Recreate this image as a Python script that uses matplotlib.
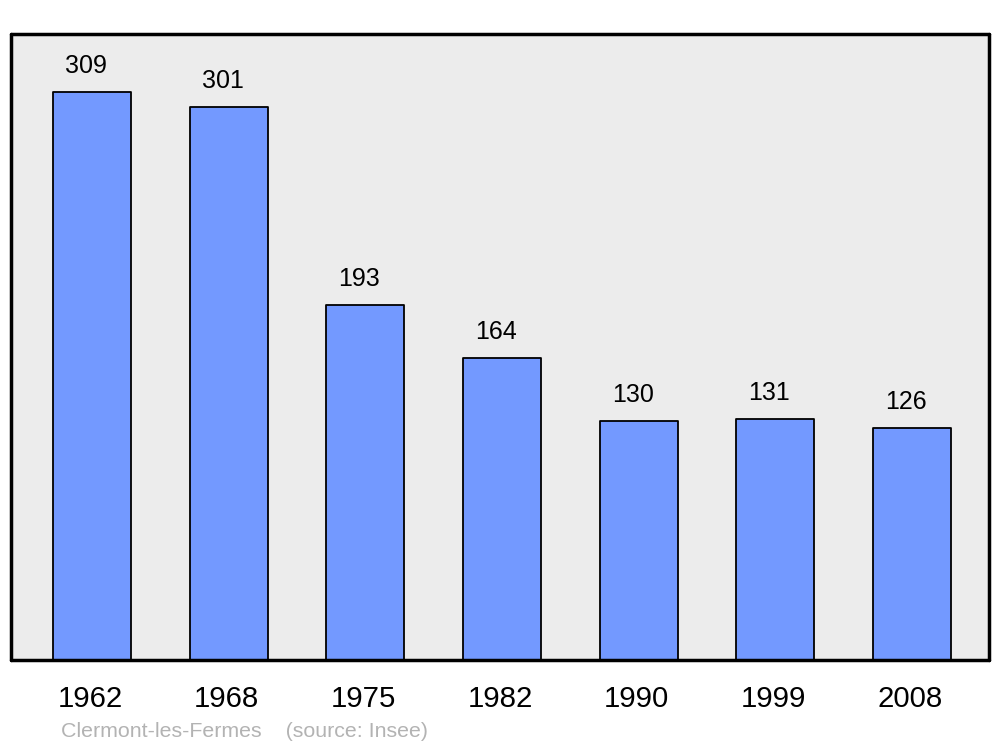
import matplotlib
matplotlib.use("Agg")
import matplotlib.pyplot as plt
import matplotlib.transforms as mtransforms

years = ["1962", "1968", "1975", "1982", "1990", "1999", "2008"]
population = [309, 301, 193, 164, 130, 131, 126]
caption = "Clermont-les-Fermes    (source: Insee)"

plt.rcParams['font.family'] = ['Liberation Sans', 'DejaVu Sans']

fig = plt.figure(figsize=(10, 7.47), dpi=100)
ax = fig.add_axes([11/1000, 87/747, 978/1000, 626/747])
ax.set_facecolor("#ececec")

x = list(range(len(years)))
bars = ax.bar(x, population, width=0.571, color="#7399ff", edgecolor="black",
              linewidth=1.3, joinstyle="round", zorder=2)
ax.set_xlim(-0.593, 6.563)
ax.set_ylim(0, 340.5)

for xi, v in zip(x, population):
    ax.annotate(str(v), (xi, v), xytext=(-6, 19), textcoords="offset pixels",
                ha="center", va="baseline", fontsize=18, color="black")

ax.set_xticks(x)
ax.set_xticklabels(years, fontsize=21.2)
ax.tick_params(axis="x", length=0, pad=18)
shift = mtransforms.ScaledTranslation(-2/100, 0, fig.dpi_scale_trans)
for lab in ax.get_xticklabels():
    lab.set_transform(lab.get_transform() + shift)
ax.set_yticks([])
for s in ax.spines.values():
    s.set_linewidth(2.5)
    s.set_capstyle("round")
    s.set_joinstyle("round")

fig.text(61/1000, 1 - 737/747, caption, fontsize=15.4, color="#b3b3b3",
         ha="left", va="baseline")

fig.savefig("out.png", dpi=100)
